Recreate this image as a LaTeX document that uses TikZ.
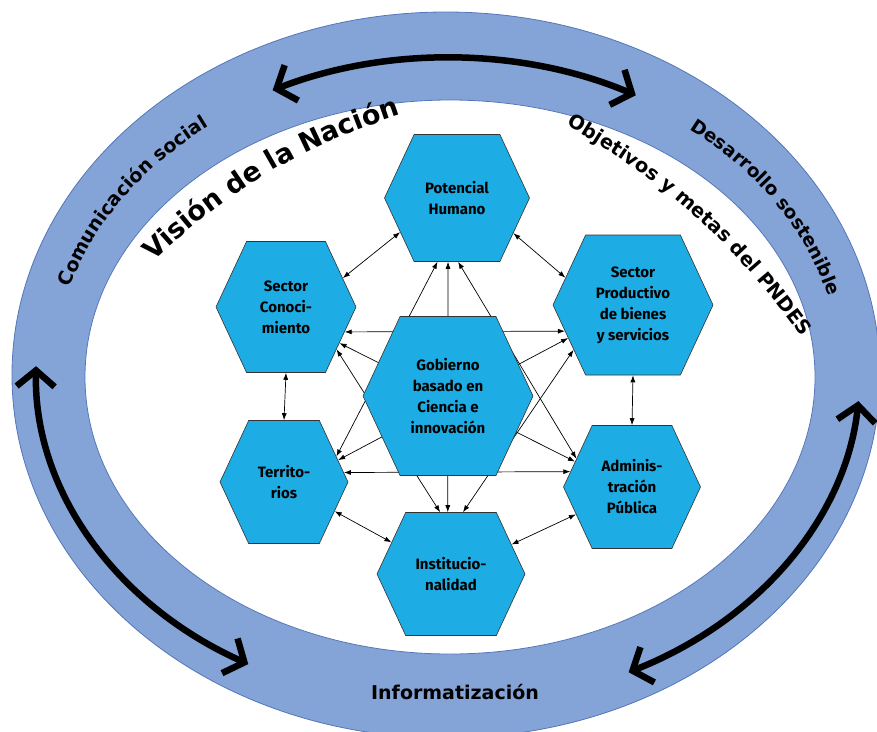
\documentclass[tikz,border=0pt]{standalone}
\usepackage{fontspec}
\usetikzlibrary{shapes.symbols,arrows.meta,decorations.text}
\newfontfamily\hexfont{Fira Sans}
\newfontfamily\ringfont{DejaVu Sans}
\definecolor{hexblue}{RGB}{29,172,227}
\definecolor{ringblue}{RGB}{132,163,214}
\definecolor{ringline}{RGB}{84,118,186}
\tikzset{
  hexa/.style={shape=signal, signal to=east and west, signal pointer angle=130,
    draw=black!80, line width=0.6pt, fill=hexblue, align=center, inner sep=0pt,
    font=\hexfont\bfseries\fontsize{15}{21}\selectfont},
  link/.style={<->, line width=0.7pt},
  bigarrow/.style={line width=6.5pt,
    {Straight Barb[length=16pt,width=38pt]}-{Straight Barb[length=16pt,width=38pt]}},
  ringtext/.style={decorate, decoration={text along path, text align=center, text={#1}}},
}
\begin{document}
\begin{tikzpicture}[x=1pt,y=1pt,>={Latex[length=7pt,width=5pt]}]
\useasboundingbox (0,0) rectangle (877,-731);
\clip (0,0) rectangle (877,-731);
\coordinate (outc) at (446,-375);
\coordinate (inc) at (450,-377);
\coordinate (midc) at (448,-376);
\coordinate (sidec) at (448,-372);
% ring
\draw[fill=ringblue, draw=ringline, line width=0.8pt] (outc) ellipse [x radius=434pt, y radius=363pt];
\draw[fill=white, draw=ringline, line width=0.8pt] (inc) ellipse [x radius=365pt, y radius=277pt];

% black arrows in the ring
\draw[bigarrow] ([shift={(116:400pt and 318pt)}]midc) arc[start angle=116, end angle=62, x radius=400pt, y radius=318pt];
\draw[bigarrow] ([shift={(179:412pt and 334pt)}]sidec) arc[start angle=179, end angle=241, x radius=412pt, y radius=334pt];
\draw[bigarrow] ([shift={(-5:412pt and 334pt)}]sidec) arc[start angle=-5, end angle=-64, x radius=412pt, y radius=334pt];

% labels of the ring
\path[ringtext={|\ringfont\bfseries\fontsize{19}{19}\selectfont|Comunicación social}]
  ([shift={(177:394pt and 314pt)}]midc) arc[start angle=177, end angle=116, x radius=394pt, y radius=314pt];
\path[ringtext={|\ringfont\bfseries\fontsize{18.5}{18.5}\selectfont|Desarrollo sostenible}]
  ([shift={(62:393pt and 313pt)}]midc) arc[start angle=62, end angle=3, x radius=393pt, y radius=313pt];
\node[font=\ringfont\bfseries\fontsize{19}{19}\selectfont] (infor) at (455,-692) {Informatización};
\path[ringtext={|\ringfont\bfseries\fontsize{27}{27}\selectfont|Visión de la Nación}]
  (128,-286) to[bend left=14] (434,-104);
\path[ringtext={|\ringfont\bfseries\fontsize{19.5}{19.5}\selectfont|Objetivos y metas del PNDES}]
  (555,-118) to[bend left=12] (810,-348);

% hexagons
\node[hexa, minimum width=145pt, minimum height=127pt] (pot) at (457,-198) {Potencial\\Humano};
\node[hexa, minimum width=140pt, minimum height=131pt] (con) at (286,-307) {Sector\\Conoci-\\miento};
\node[hexa, minimum width=160pt, minimum height=140pt] (pro) at (633,-305) {Sector\\Productivo\\de bienes\\y servicios};
\node[hexa, minimum width=128pt, minimum height=123pt] (ter) at (284,-482) {Territo-\\rios};
\node[hexa, minimum width=137pt, minimum height=123pt] (adm) at (632,-487) {Adminis-\\tración\\Pública};
\node[hexa, minimum width=148pt, minimum height=123pt] (ins) at (451,-574) {Institucio-\\nalidad};

\draw[link] (pot.211) -- (con.27);
\draw[link] (pot.-32) -- (pro.158);
\draw[link] (con.south) -- (ter.north);
\draw[link] (pro.south) -- (adm.north);
\draw[link] (ter.-30) -- (ins.152);
\draw[link] (adm.206) -- (ins.26);
% these pass behind the centre
\draw[link] (con.-23) -- (pro.201);
\draw[link] (ter.9) -- (adm.166);
\draw[link] (pot.-98) -- (ins.93);
\draw[link] (pot.-107) -- (ter.26);
\draw[link] (pot.-89) -- (adm.153);
\draw[link] (con.-40) -- (ins.100);
\draw[link] (pro.217) -- (ins.79);
\draw[link] (con.-34) -- (adm.156);
\draw[link] (pro.207) -- (ter.22);

\node[hexa, minimum width=170pt, minimum height=159pt] (gob) at (448,-396) {Gobierno\\basado en\\Ciencia e\\innovación};
\end{tikzpicture}
\end{document}
